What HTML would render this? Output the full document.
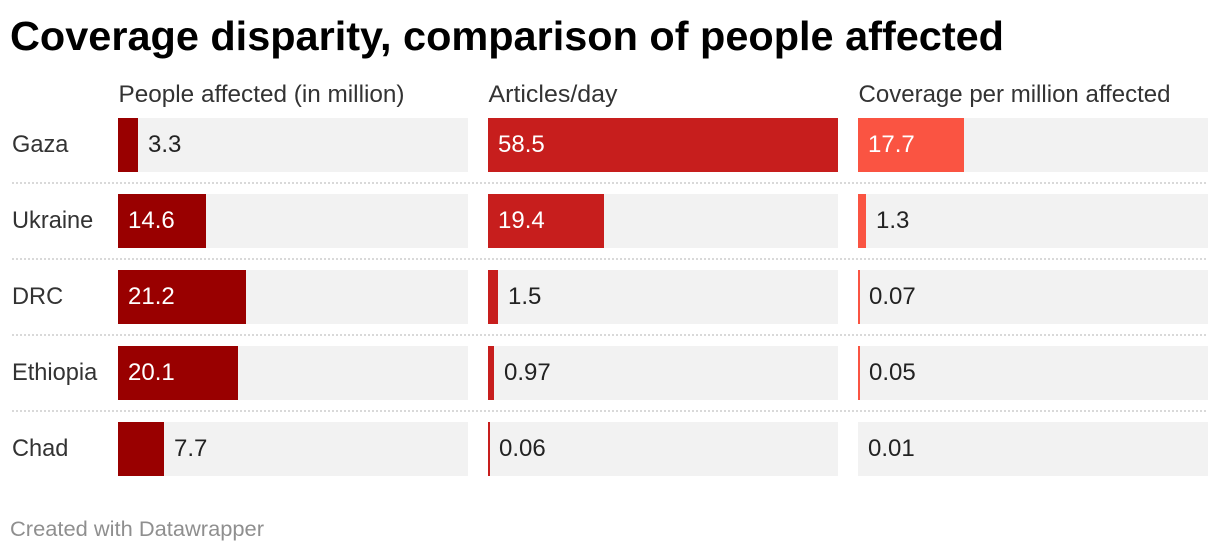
<!DOCTYPE html>
<html lang="en">
<head>
<meta charset="utf-8">
<title>Coverage disparity, comparison of people affected</title>
<style>
  html, body { margin: 0; padding: 0; background: #fff; }
  body { width: 1220px; height: 552px; overflow: hidden; }
  svg { display: block; font-family: "Liberation Sans", Arial, sans-serif; }
</style>
</head>
<body>
<svg id="chart" width="1220" height="552" viewBox="0 0 1220 552" xmlns="http://www.w3.org/2000/svg">
  <text x="10" y="50" font-size="41" font-weight="700" fill="#000" textLength="994" lengthAdjust="spacingAndGlyphs">Coverage disparity, comparison of people affected</text>
  <text x="118.5" y="102" font-size="24" fill="#333" textLength="286" lengthAdjust="spacingAndGlyphs">People affected (in million)</text>
  <text x="488.5" y="102" font-size="24" fill="#333" textLength="129" lengthAdjust="spacingAndGlyphs">Articles/day</text>
  <text x="858.5" y="102" font-size="24" fill="#333" textLength="312" lengthAdjust="spacingAndGlyphs">Coverage per million affected</text>
  <g id="rows"></g>
  <text x="10" y="536" font-size="21.5" fill="#8f8f8f" textLength="254" lengthAdjust="spacingAndGlyphs">Created with Datawrapper</text>
</svg>
<script>
const countries = ["Gaza", "Ukraine", "DRC", "Ethiopia", "Chad"];
const peopleAffected = [3.3, 14.6, 21.2, 20.1, 7.7];
const articlesPerDay = [58.5, 19.4, 1.5, 0.97, 0.06];
const coveragePerMillion = [17.7, 1.3, 0.07, 0.05, 0.01];
const peopleLabels = ["3.3", "14.6", "21.2", "20.1", "7.7"];
const articlesLabels = ["58.5", "19.4", "1.5", "0.97", "0.06"];
const coverageLabels = ["17.7", "1.3", "0.07", "0.05", "0.01"];

const NS = "http://www.w3.org/2000/svg";
const group = document.getElementById("rows");
const ROW_TOP = 118, ROW_STEP = 76, BAR_H = 54, COL_W = 350, PAD = 10, INSIDE_MIN = 70;
const columns = [
  { key: "people", x: 118, color: "#990000", values: peopleAffected, labels: peopleLabels },
  { key: "articles", x: 488, color: "#c71e1d", values: articlesPerDay, labels: articlesLabels },
  { key: "coverage", x: 858, color: "#fa5442", values: coveragePerMillion, labels: coverageLabels }
];
// All three columns share one domain, taken from the largest value.
const domainMax = Math.max(...peopleAffected, ...articlesPerDay, ...coveragePerMillion);
// Horizontal axis: value to bar width, snapped to the 2px device grid.
function xWidth(v) {
  const raw = v / domainMax * COL_W;
  return Math.max(0, 2 * Math.ceil(raw / 2 - 0.14));
}
function yRow(i) {
  return ROW_TOP + i * ROW_STEP;
}

countries.forEach(function (country, i) {
  const y = yRow(i);

  const label = document.createElementNS(NS, "text");
  
  
  label.setAttribute("x", 12);
  label.setAttribute("y", y + 34);
  label.setAttribute("font-size", 23.6);
  label.setAttribute("fill", "#333");
  label.textContent = country;
  group.appendChild(label);

  if (i < countries.length - 1) {
    const rule = document.createElementNS(NS, "line");
    
    
    rule.setAttribute("x1", 12);
    rule.setAttribute("x2", 1208);
    rule.setAttribute("y1", y + BAR_H + 11);
    rule.setAttribute("y2", y + BAR_H + 11);
    rule.setAttribute("stroke", "#d9d9d9");
    rule.setAttribute("stroke-width", 2);
    rule.setAttribute("stroke-dasharray", "2 2");
    group.appendChild(rule);
  }

  columns.forEach(function (col) {
    const track = document.createElementNS(NS, "rect");
    
    
    track.setAttribute("x", col.x);
    track.setAttribute("y", y);
    track.setAttribute("width", COL_W);
    track.setAttribute("height", BAR_H);
    track.setAttribute("fill", "#f2f2f2");
    group.appendChild(track);

    const w = xWidth(col.values[i]);
    const bar = document.createElementNS(NS, "rect");
    
    
    bar.setAttribute("x", col.x);
    bar.setAttribute("y", y);
    bar.setAttribute("width", w);
    bar.setAttribute("height", BAR_H);
    bar.setAttribute("fill", col.color);
    group.appendChild(bar);

    const inside = w >= INSIDE_MIN;
    const val = document.createElementNS(NS, "text");
    
    
    val.setAttribute("x", inside ? col.x + PAD : col.x + w + PAD - (w < 4 && w > 0 ? 1 : 0));
    val.setAttribute("y", y + 34);
    val.setAttribute("font-size", 24);
    val.setAttribute("fill", inside ? "#ffffff" : "#222222");
    val.textContent = col.labels[i];
    group.appendChild(val);
  });
});
</script>
</body>
</html>
